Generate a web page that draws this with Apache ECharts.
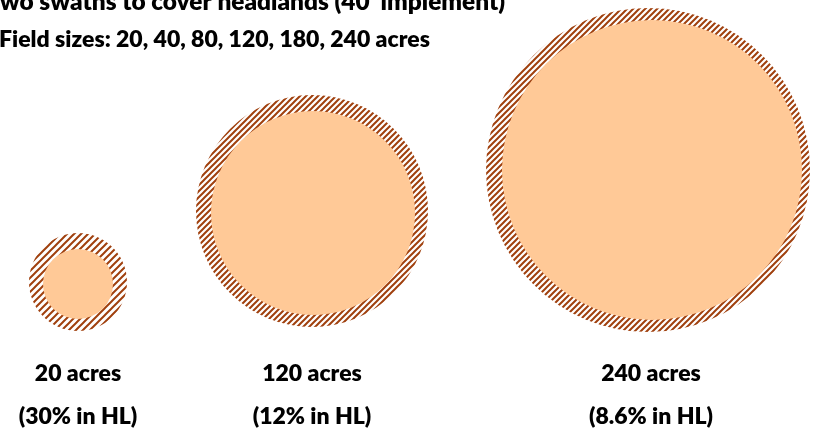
<!DOCTYPE html>
<html><head><meta charset="utf-8">
<script src="https://cdn.jsdelivr.net/npm/echarts@6/dist/echarts.min.js"></script>
<style>html,body{margin:0;padding:0;background:#fff}#c{width:817px;height:432px}</style>
</head><body><div id="c"></div>
<script>
// Data
const acres = [20, 120, 240];
const hlShare = ['30%', '12%', '8.6%'];
const fieldSizes = [20, 40, 80, 120, 180, 240];
const centerX = [78, 312, 648];
const centerY = [282, 211, 170];
const outerRadius = [49, 116, 162];
const innerCenterX = [78, 313, 652];
const innerCenterY = [284, 213, 170];
const innerRadius = [35, 102, 150];
const labelX = [78, 312, 651];
const stripePeriod = [7, 6, 6];

const FONT = 'Lato';
const WEIGHT = '800';
const PEACH = '#FFC997';
const BROWN = '#A0400E';

function makePattern(s) {
  const c = document.createElement('canvas');
  c.width = s; c.height = s;
  const g = c.getContext('2d');
  g.fillStyle = '#fff'; g.fillRect(0, 0, s, s);
  g.strokeStyle = BROWN; g.lineWidth = 2;
  g.beginPath();
  g.moveTo(-1, s + 1); g.lineTo(s + 1, -1);
  g.moveTo(-2, 2); g.lineTo(2, -2);
  g.moveTo(s - 2, s + 2); g.lineTo(s + 2, s - 2);
  g.stroke();
  return { image: c, repeat: 'repeat' };
}

const data = acres.map((a, i) => [centerX[i], centerY[i], outerRadius[i], innerCenterX[i], innerCenterY[i], innerRadius[i], i, labelX[i]]);

const chart = echarts.init(document.getElementById('c'));
chart.setOption({
  animation: false,
  grid: { left: 0, right: 0, top: 0, bottom: 0 },
  xAxis: { type: 'value', min: 0, max: 817, show: false },
  yAxis: { type: 'value', min: 0, max: 432, inverse: true, show: false },
  graphic: [
    { type: 'text', style: { x: -13, y: 2, verticalAlign: 'middle', text: "Two swaths to cover headlands (40' implement)", font: WEIGHT + ' 24.4px ' + FONT, fill: '#000' } },
    { type: 'text', style: { x: -1, y: 40, verticalAlign: 'middle', text: 'Field sizes: ' + fieldSizes.join(', ') + ' acres', font: WEIGHT + ' 23px ' + FONT, fill: '#000' } }
  ],
  series: [{
    type: 'custom',
    coordinateSystem: 'cartesian2d',
    data: data,
    renderItem: function (params, api) {
      const i = api.value(6);
      const c = api.coord([api.value(0), api.value(1)]);
      const r = api.size([api.value(2), 0])[0];
      const ci = api.coord([api.value(3), api.value(4)]);
      const ri = api.size([api.value(5), 0])[0];
      const lab1 = api.coord([api.value(7), 374]);
      const lab2 = api.coord([api.value(7), 417]);
      return {
        type: 'group',
        children: [
          { type: 'circle', shape: { cx: c[0], cy: c[1], r: r }, style: { fill: makePattern(stripePeriod[i]) } },
          { type: 'circle', shape: { cx: ci[0], cy: ci[1], r: ri }, style: { fill: PEACH } },
          { type: 'text', style: { x: lab1[0], y: lab1[1], text: acres[i] + ' acres', font: WEIGHT + ' 23px ' + FONT, fill: '#000', align: 'center', verticalAlign: 'middle' } },
          { type: 'text', style: { x: lab2[0], y: lab2[1], text: '(' + hlShare[i] + ' in HL)', font: WEIGHT + ' 23px ' + FONT, fill: '#000', align: 'center', verticalAlign: 'middle' } }
        ]
      };
    }
  }]
});
</script>
</body></html>
